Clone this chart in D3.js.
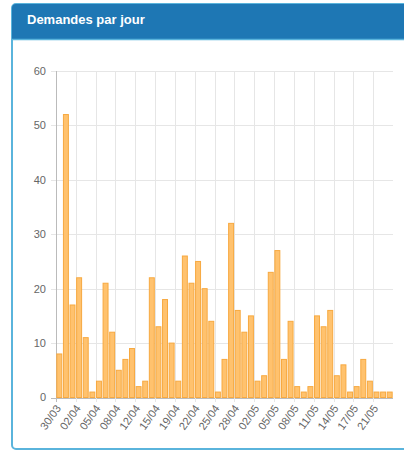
<!DOCTYPE html>
<html>
<head>
<meta charset="utf-8">
<script src="https://cdn.jsdelivr.net/npm/d3@7/dist/d3.min.js"></script>
<style>
  body { margin: 0; background: #fff; }
  svg { display: block; font-family: "Liberation Sans", Arial, sans-serif; }
</style>
</head>
<body>
<svg id="chart"></svg>
<script>
const WIDTH = 404,
  HEIGHT = 452,
  TITLE = "Demandes par jour";

// one entry per day that had requests (some days are missing)
const dates = ["30/03", "31/03", "01/04", "02/04", "03/04", "04/04", "05/04", "06/04", "07/04", "08/04",
  "09/04", "11/04", "12/04", "13/04", "14/04", "15/04", "16/04", "18/04", "19/04", "20/04",
  "21/04", "22/04", "23/04", "24/04", "25/04", "26/04", "27/04", "28/04", "29/04", "30/04",
  "02/05", "03/05", "04/05", "05/05", "06/05", "07/05", "08/05", "09/05", "10/05", "11/05",
  "12/05", "13/05", "14/05", "15/05", "16/05", "17/05", "18/05", "19/05", "21/05", "22/05", "23/05"];
const demandes = [8, 52, 17, 22, 11, 1, 3, 21, 12, 5,
  7, 9, 2, 3, 22, 13, 18, 10, 3, 26,
  21, 25, 20, 14, 1, 7, 32, 16, 12, 15,
  3, 4, 23, 27, 7, 14, 2, 1, 2, 15,
  13, 16, 4, 6, 1, 2, 7, 3, 1, 1, 1];
const yTicks = [0, 10, 20, 30, 40, 50, 60];
// the labelled dates (every third day), plus one stray grid line
const shownDates = dates.filter((d, i) => i % 3 === 0);
const extraGrid = ["19/04"];

const svg = d3.select("#chart")
  .attr("width", WIDTH)
  .attr("height", HEIGHT);

// panel
svg.append("rect")
  .attr("x", 12).attr("y", 4)
  .attr("width", 420).attr("height", 445)
  .attr("rx", 4)
  .attr("fill", "#fff")
  .attr("stroke", "#5ab4dc")
  .attr("stroke-width", 2);

svg.append("path")
  .attr("d", "M12,39 L12,8 Q12,4 16,4 L404,4 L404,39 Z")
  .attr("fill", "#1e77b4");

svg.append("line")
  .attr("x1", 12).attr("x2", 404)
  .attr("y1", 39.5).attr("y2", 39.5)
  .attr("stroke", "#5ab4dc")
  .attr("stroke-width", 1.5);

svg.append("text")
  .attr("x", 27).attr("y", 24)
  .attr("fill", "#fff")
  .attr("font-size", 13)
  .attr("font-weight", "bold")
  .text(TITLE);

// scales
const x = d3.scaleBand()
  .domain(dates)
  .range([56, 393])
  .paddingInner(0.25)
  .paddingOuter(0.125);

const y = d3.scaleLinear()
  .domain([0, 60])
  .range([397.5, 71]);

const step = x.step();
const edge = d => x(d) - step * 0.125;

const g = svg.append("g");

// horizontal grid
g.append("g")
  .selectAll("line")
  .data(yTicks)
  .enter()
  .append("line")
  .attr("x1", 51).attr("x2", 393)
  .attr("y1", d => Math.round(y(d)) + 0.5)
  .attr("y2", d => Math.round(y(d)) + 0.5)
  .attr("stroke", d => d === 0 ? "#bbb" : "#e6e6e6");

// vertical grid
g.append("g")
  .selectAll("line")
  .data(shownDates.concat(extraGrid))
  .enter()
  .append("line")
  .attr("x1", d => Math.round(edge(d)) + 0.5)
  .attr("x2", d => Math.round(edge(d)) + 0.5)
  .attr("y1", 71)
  .attr("y2", 402)
  .attr("stroke", d => d === dates[0] ? "#bbb" : "#e6e6e6");

// y labels
g.append("g")
  .selectAll("text")
  .data(yTicks)
  .enter()
  .append("text")
  .attr("x", 46)
  .attr("y", d => y(d))
  .attr("dy", "0.35em")
  .attr("text-anchor", "end")
  .attr("fill", "#666")
  .attr("font-size", 11)
  .text(d => d);

// bars
g.append("g")
  .selectAll("rect")
  .data(demandes)
  .enter()
  .append("rect")
  .attr("x", (d, i) => x(dates[i]))
  .attr("y", d => y(d))
  .attr("width", x.bandwidth())
  .attr("height", d => y(0) - y(d))
  .attr("fill", "#ffc26e")
  .attr("stroke", "#f7a940")
  .attr("stroke-width", 1);

// x labels
g.append("g")
  .selectAll("text")
  .data(shownDates)
  .enter()
  .append("text")
  .attr("transform", d => `translate(${x(d) + x.bandwidth() / 2 - 1},${406}) rotate(-55)`)
  .attr("text-anchor", "end")
  .attr("dy", "0.35em")
  .attr("fill", "#666")
  .attr("font-size", 11)
  .text(d => d);
</script>
</body>
</html>
